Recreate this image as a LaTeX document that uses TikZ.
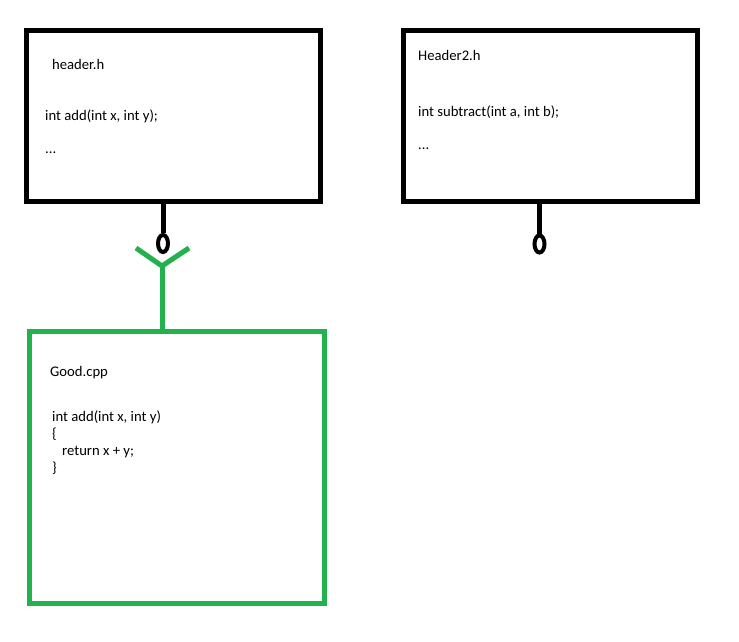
\documentclass[tikz,border=0pt]{standalone}
\usepackage{fontspec}
\setmainfont{Carlito}
\usetikzlibrary{shapes.geometric}
\definecolor{mygreen}{RGB}{34,177,76}
\tikzset{
    box/.style={draw, rectangle, line width=5pt, inner sep=0pt},
    hbox/.style={box, minimum width=294pt, minimum height=170pt},
    txt/.style={anchor=base west, inner sep=0pt, font=\fontsize{14.67}{17.6}\selectfont},
    ball/.style={draw, ellipse, line width=4pt, inner sep=0pt, minimum width=10pt, minimum height=17pt},
    stem/.style={line width=5pt},
    socket/.style={mygreen, line width=5pt, line join=miter}
}

\begin{document}
\begin{tikzpicture}[x=1pt, y=-1pt]
        \useasboundingbox[fill=white] (0,0) rectangle (739,642);

        % header boxes
        \node[hbox] (hdr) at (173,116) {};
        \node[hbox] (hdrtwo) at (550,116) {};
        \node[box, draw=mygreen, minimum width=295pt, minimum height=272pt] (good) at (177,467.5) {};

        % texts
        \node[txt] (hdrname) at (52,70) {header.h};
        \node[txt] (hdrdecl) at (45,120) {int add(int x, int y);};
        \node[txt] (hdrdots) at (45,153) {...};

        \node[txt] (twoname) at (418,61) {Header2.h};
        \node[txt] (twodecl) at (418,116) {int subtract(int a, int b);};
        \node[txt] (twodots) at (418,149) {...};

        \node[txt] (goodname) at (50,376) {Good.cpp};
        \node[txt] (gooddef) at (52,421) {int add(int x, int y)};
        \node[txt] (goodopen) at (52,438.3) {\{};
        \node[txt] (goodret) at (62,455.6) {return x + y;};
        \node[txt] (goodclose) at (52,472.9) {\}};

        % provided interfaces
        \node[ball] (hdrball) at (163,243.5) {};
        \node[ball] (twoball) at (539.5,244) {};
        \draw[stem] (hdrball.north |- hdr.south) -- (hdrball.north);
        \draw[stem] (twoball.north |- hdrtwo.south) -- (twoball.north);

        % required interface
        \coordinate (fork) at (162,266);
        \coordinate (forkleft) at (136,248);
        \coordinate (forkright) at (189,248);
        \draw[socket] (forkleft) -- (fork) -- (forkright);
        \draw[socket] (fork) -- (fork |- good.north);
    \end{tikzpicture}
\end{document}
